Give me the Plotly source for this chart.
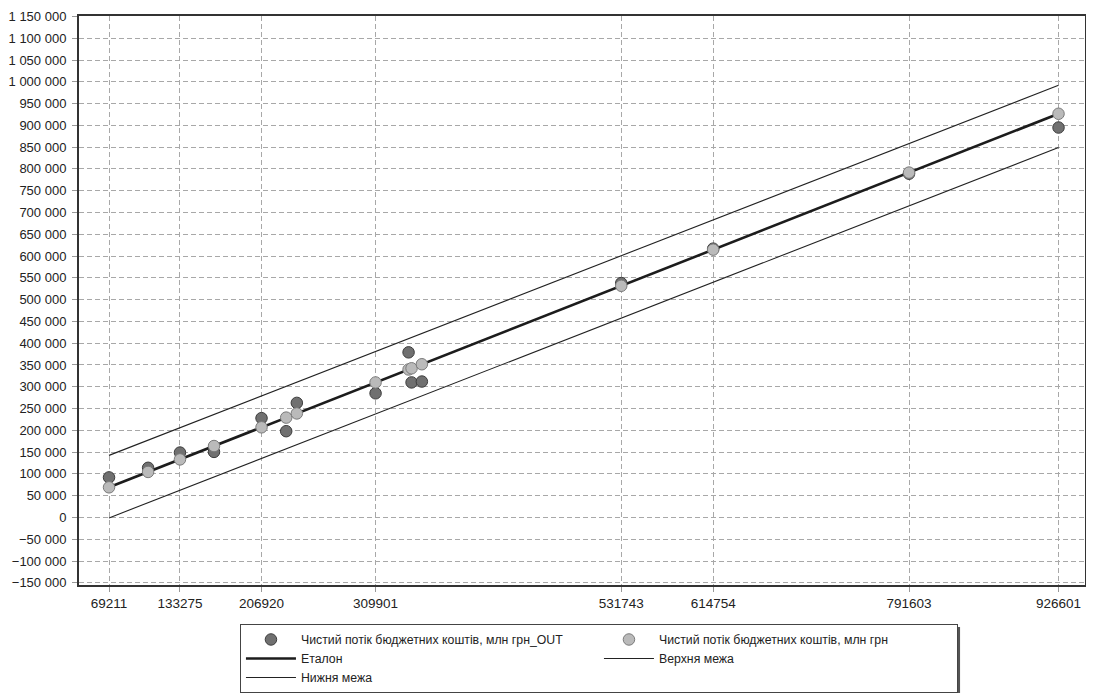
import plotly.graph_objects as go

# ---- data ----
actual_values = [69211, 104500, 133275, 164000, 206920, 229200, 238800, 309901,
                 339700, 342400, 351700, 531743, 614754, 791603, 926601]
model_out = [92000, 114000, 149000, 150500, 228000, 198000, 263000, 285000,
             379000, 310000, 312000, 538000, 617000, 789000, 895000]

x_ticks = [69211, 133275, 206920, 309901, 531743, 614754, 791603, 926601]
x_tick_text = ["69211", "133275", "206920", "309901", "531743", "614754", "791603", "926601"]

line_x = [69211, 926601]
reference_y = [69211, 926601]
upper_y = [142500, 992000]
lower_y = [-1000, 849000]

name_out = "Чистий потік бюджетних коштів, млн грн_OUT"
name_act = "Чистий потік бюджетних коштів, млн грн"
name_ref = "Еталон"
name_up = "Верхня межа"
name_low = "Нижня межа"

FONT = "Liberation Sans Narrow, Arial Narrow, Liberation Sans, Arial, sans-serif"

fig = go.Figure()
fig.add_trace(go.Scatter(x=line_x, y=reference_y, mode="lines", name=name_ref,
                         line=dict(color="#1c1c1c", width=2.6), legendrank=3))
fig.add_trace(go.Scatter(x=line_x, y=upper_y, mode="lines", name=name_up,
                         line=dict(color="#222222", width=1.1), legendrank=4))
fig.add_trace(go.Scatter(x=line_x, y=lower_y, mode="lines", name=name_low,
                         line=dict(color="#222222", width=1.1), legendrank=5))
fig.add_trace(go.Scatter(x=actual_values, y=model_out, mode="markers", name=name_out,
                         marker=dict(size=11.5, color="#707070",
                                     line=dict(color="#3c3c3c", width=1)),
                         legendrank=1))
fig.add_trace(go.Scatter(x=actual_values, y=actual_values, mode="markers", name=name_act,
                         marker=dict(size=11.5, color="#bababa",
                                     line=dict(color="#7a7a7a", width=1)),
                         legendrank=2))

# legend drop shadow (paper coordinates)
fig.add_shape(type="rect", xref="paper", yref="paper",
              x0=0.163, x1=0.8758, y0=-0.19, y1=-0.0738,
              fillcolor="#555555", line=dict(width=0), layer="below")

fig.update_layout(
    width=1086, height=687,
    margin=dict(l=71, r=9, t=8, b=110, autoexpand=False),
    plot_bgcolor="white", paper_bgcolor="white",
    separators=". ",
    font=dict(family=FONT, size=12.3, color="#222222"),
    showlegend=True,
    legend=dict(orientation="h", x=0.160, y=-0.0685, xanchor="left", yanchor="top",
                entrywidth=293, itemwidth=50, bgcolor="white",
                bordercolor="#444444", borderwidth=1,
                font=dict(family=FONT, size=12.3, color="#222222"),
                tracegroupgap=0),
)
fig.update_xaxes(range=[42100, 950500], tickvals=x_ticks, ticktext=x_tick_text,
                 showgrid=True, gridcolor="#a8a8a8", griddash="5px,3px", gridwidth=1,
                 showline=True, linecolor="#333333", linewidth=2, mirror=True,
                 ticks="outside", ticklen=5, tickcolor="#999999",
                 tickfont=dict(family=FONT, size=13.5, color="#222222"), zeroline=False)
fig.update_yaxes(range=[-155000, 1151000], tickmode="linear", tick0=0, dtick=50000,
                 tickformat=",d",
                 showgrid=True, gridcolor="#a8a8a8", griddash="5px,3px", gridwidth=1,
                 showline=True, linecolor="#333333", linewidth=2, mirror=True,
                 ticks="outside", ticklen=5, tickcolor="#999999", ticklabelstandoff=3,
                 tickfont=dict(family=FONT, size=13, color="#222222"), zeroline=False)

fig.write_html("out.html")
